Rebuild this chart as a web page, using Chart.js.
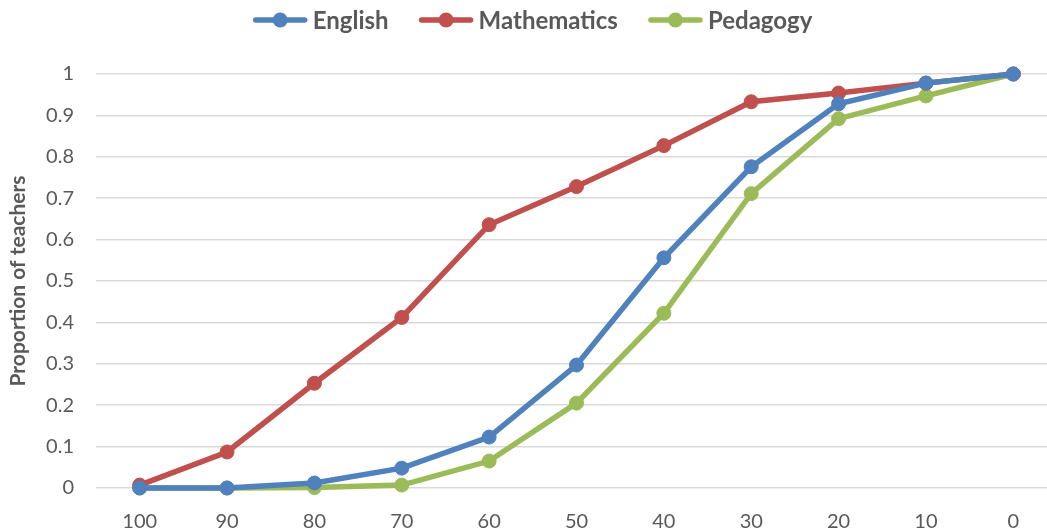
<!DOCTYPE html>
<html>
<head>
<meta charset="utf-8">
<script src="https://cdn.jsdelivr.net/npm/chart.js@4.4.1/dist/chart.umd.min.js"></script>
<style>
  html, body { margin: 0; padding: 0; background: #ffffff; overflow: hidden; }
  #chart { display: block; }
</style>
</head>
<body>
<canvas id="chart" width="1065" height="531"></canvas>
<script>
// Score thresholds along the x axis (descending)
const categories = ['100', '90', '80', '70', '60', '50', '40', '30', '20', '10', '0'];

// Cumulative proportion of teachers at each threshold
const englishValues     = [0, 0, 0.012, 0.048, 0.123, 0.297, 0.556, 0.776, 0.928, 0.978, 1];
const mathematicsValues = [0.007, 0.087, 0.253, 0.412, 0.636, 0.728, 0.827, 0.933, 0.954, 0.978, 1];
const pedagogyValues    = [0, 0, 0.001, 0.007, 0.065, 0.205, 0.422, 0.711, 0.892, 0.947, 1];

const seriesNames = ['English', 'Mathematics', 'Pedagogy'];
const seriesColors = ['#4F81BD', '#C0504D', '#9BBB59'];

const FONT = 'Lato, "Open Sans", sans-serif';
const TEXT = '#595959';

function series(i, data) {
  return {
    label: seriesNames[i],
    data: data,
    borderColor: seriesColors[i],
    backgroundColor: seriesColors[i],
    pointBackgroundColor: seriesColors[i],
    pointBorderColor: seriesColors[i],
    borderWidth: 5.5,
    pointRadius: 7,
    pointBorderWidth: 1,
    tension: 0,
    clip: false
  };
}

// Legend drawn centered above the plot: short line with a dot, then the name
const topLegend = {
  id: 'topLegend',
  afterDraw(chart) {
    const ctx = chart.ctx;
    const y = 20;
    const lineLen = 53, gapText = 6, gapItem = 31;
    ctx.save();
    ctx.font = 'bold 24px ' + FONT;
    const items = chart.data.datasets.map(ds => ({
      label: ds.label, color: ds.borderColor, w: ctx.measureText(ds.label).width
    }));
    const total = items.reduce((s, it) => s + lineLen + gapText + it.w, 0) + gapItem * (items.length - 1);
    let x = 533 - total / 2;
    items.forEach(it => {
      ctx.strokeStyle = it.color;
      ctx.lineWidth = 5.5;
      ctx.lineCap = 'round';
      ctx.beginPath();
      ctx.moveTo(x + 2, y);
      ctx.lineTo(x + lineLen - 2, y);
      ctx.stroke();
      ctx.fillStyle = it.color;
      ctx.beginPath();
      ctx.arc(x + lineLen / 2, y, 7.5, 0, Math.PI * 2);
      ctx.fill();
      ctx.fillStyle = TEXT;
      ctx.textBaseline = 'middle';
      ctx.textAlign = 'left';
      ctx.fillText(it.label, x + lineLen + gapText, y + 1);
      x += lineLen + gapText + it.w + gapItem;
    });
    ctx.restore();
  }
};

new Chart(document.getElementById('chart'), {
  type: 'line',
  data: {
    labels: categories,
    datasets: [
      series(0, englishValues),
      series(1, mathematicsValues),
      series(2, pedagogyValues)
    ]
  },
  options: {
    responsive: false,
    animation: false,
    layout: { padding: { top: 74, left: 0, right: 0, bottom: 0 } },
    plugins: {
      legend: { display: false },
      tooltip: { enabled: false }
    },
    scales: {
      x: {
        offset: true,
        grid: { display: false, drawTicks: false },
        border: { display: false },
        ticks: { color: TEXT, font: { family: FONT, size: 20 }, padding: 22, maxRotation: 0 },
        afterFit(s) { s.height = 43; s.paddingLeft = 0; s.paddingRight = 0; }
      },
      y: {
        min: 0,
        max: 1,
        grid: { color: '#D9D9D9', lineWidth: 1.5, drawTicks: false },
        border: { display: false },
        ticks: {
          stepSize: 0.1,
          color: TEXT,
          font: { family: FONT, size: 20 },
          padding: 22,
          callback: v => Math.round(v * 10) / 10
        },
        title: {
          display: true,
          text: 'Proportion of teachers',
          color: TEXT,
          font: { family: FONT, size: 21, weight: 'bold' },
          padding: { top: 6, bottom: 0 }
        },
        afterFit(s) { s.width = 96; }
      }
    }
  },
  plugins: [topLegend]
});
</script>
</body>
</html>
